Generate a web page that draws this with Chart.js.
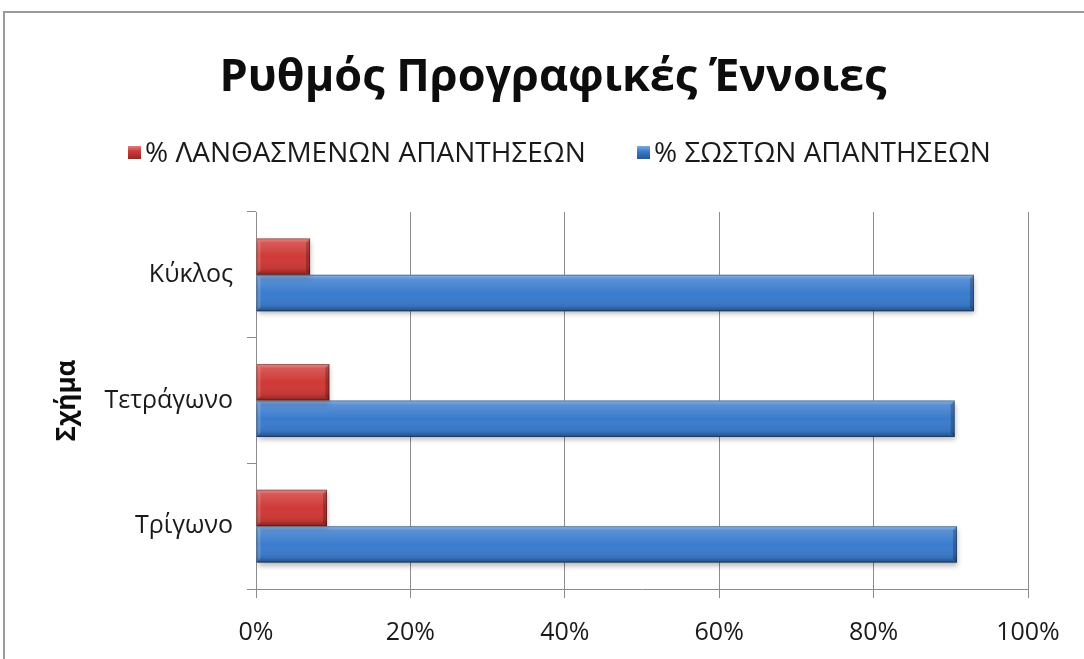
<!DOCTYPE html>
<html>
<head>
<meta charset="utf-8">
<script src="https://cdn.jsdelivr.net/npm/chart.js@4.4.1/dist/chart.umd.min.js"></script>
<style>
  html, body { margin: 0; padding: 0; background: #ffffff; }
  body { width: 1084px; height: 659px; position: relative; overflow: hidden; font-family: "Open Sans", "Noto Sans", sans-serif; }
  #frame { position: absolute; left: 3px; top: 11px; width: 1200px; height: 700px; border-left: 2px solid #9a9a9a; border-top: 2px solid #9a9a9a; }
  #chart { position: absolute; left: 0; top: 0; }
  #title { position: absolute; left: 553px; top: 47px; transform: translateX(-50%); white-space: nowrap;
           font-weight: 700; font-size: 45px; line-height: 54px; color: #0d0d0d; }
  .legend-item { position: absolute; top: 136px; height: 30px; line-height: 30px; white-space: nowrap;
                 font-size: 28px; color: #1a1a1a; }
  .legend-box { position: absolute; left: 0; top: 10px; width: 13px; height: 13px; }
  .legend-text { position: absolute; left: 17px; top: 0; }
</style>
</head>
<body>
<div id="frame"></div>
<canvas id="chart" width="1084" height="659"></canvas>
<div id="title">Ρυθμός Προγραφικές Έννοιες</div>
<div id="legend"></div>
<script>
// Shapes on the category axis, top to bottom
const categories = ['Κύκλος', 'Τετράγωνο', 'Τρίγωνο'];
// Share of wrong and correct answers per shape (%)
const wrongPct = [7, 9.5, 9.2];
const correctPct = [93, 90.5, 90.8];
const seriesNames = ['% ΛΑΝΘΑΣΜΕΝΩΝ ΑΠΑΝΤΗΣΕΩΝ', '% ΣΩΣΤΩΝ ΑΠΑΝΤΗΣΕΩΝ'];
const xTicks = [0, 20, 40, 60, 80, 100];
const axisTitle = 'Σχήμα';

const seriesColors = ['#cf3a37', '#3b7cce'];
const legendLeft = [128, 637];
const fontFamily = '"Open Sans", "Noto Sans", sans-serif';
const gridColor = '#8c8c8c';

// HTML legend built from the series names
const legend = document.getElementById('legend');
seriesNames.forEach((name, i) => {
  const item = document.createElement('div');
  item.className = 'legend-item';
  item.style.left = legendLeft[i] + 'px';
  const box = document.createElement('div');
  box.className = 'legend-box';
  box.style.background = 'linear-gradient(to bottom, rgba(255,255,255,0.35), rgba(255,255,255,0) 40%, rgba(0,0,0,0.3)), ' + seriesColors[i];
  const txt = document.createElement('div');
  txt.className = 'legend-text';
  txt.textContent = name;
  item.appendChild(box);
  item.appendChild(txt);
  legend.appendChild(item);
});

// Soft drop shadow under each bar series
const barShadow = {
  id: 'barShadow',
  beforeDatasetDraw(chart) {
    const ctx = chart.ctx;
    ctx.save();
    ctx.shadowColor = 'rgba(0,0,0,0.28)';
    ctx.shadowBlur = 5;
    ctx.shadowOffsetX = 1;
    ctx.shadowOffsetY = 3;
  },
  afterDatasetDraw(chart) {
    chart.ctx.restore();
  }
};

// Bevel shading painted over the bars using each element's geometry
const barBevel = {
  id: 'barBevel',
  afterDatasetsDraw(chart) {
    const ctx = chart.ctx;
    chart.data.datasets.forEach((ds, di) => {
      const meta = chart.getDatasetMeta(di);
      meta.data.forEach(bar => {
        const p = bar.getProps(['x', 'y', 'base', 'height'], true);
        const L = Math.min(p.base, p.x), R = Math.max(p.base, p.x);
        const T = p.y - p.height / 2, B = p.y + p.height / 2;
        const b = 4;
        ctx.save();
        const g = ctx.createLinearGradient(0, T, 0, B);
        g.addColorStop(0, 'rgba(255,255,255,0.42)');
        g.addColorStop(0.12, 'rgba(255,255,255,0.16)');
        g.addColorStop(0.5, 'rgba(255,255,255,0)');
        g.addColorStop(0.85, 'rgba(0,0,0,0.08)');
        g.addColorStop(1, 'rgba(0,0,0,0.38)');
        ctx.fillStyle = g;
        ctx.fillRect(L, T, R - L, B - T);
        // right face
        ctx.fillStyle = 'rgba(0,0,0,0.22)';
        ctx.beginPath();
        ctx.moveTo(R, T); ctx.lineTo(R, B); ctx.lineTo(R - b, B - b); ctx.lineTo(R - b, T + b);
        ctx.closePath(); ctx.fill();
        // left face
        ctx.fillStyle = 'rgba(255,255,255,0.16)';
        ctx.beginPath();
        ctx.moveTo(L, T); ctx.lineTo(L + b, T + b); ctx.lineTo(L + b, B - b); ctx.lineTo(L, B);
        ctx.closePath(); ctx.fill();
        ctx.strokeStyle = 'rgba(0,0,0,0.3)';
        ctx.lineWidth = 1;
        ctx.strokeRect(L + 0.5, T + 0.5, R - L - 1, B - T - 1);
        ctx.restore();
      });
    });
  }
};

new Chart(document.getElementById('chart'), {
  type: 'bar',
  data: {
    labels: categories,
    datasets: [
      { label: seriesNames[0], data: wrongPct, backgroundColor: seriesColors[0],
        borderWidth: 0, categoryPercentage: 0.58, barPercentage: 1.0 },
      { label: seriesNames[1], data: correctPct, backgroundColor: seriesColors[1],
        borderWidth: 0, categoryPercentage: 0.58, barPercentage: 1.0 }
    ]
  },
  options: {
    indexAxis: 'y',
    responsive: false,
    animation: false,
    devicePixelRatio: 1,
    layout: { padding: { top: 212, right: 56, bottom: 0, left: 0 } },
    plugins: {
      legend: { display: false },
      title: { display: false },
      tooltip: { enabled: false }
    },
    scales: {
      x: {
        min: 0, max: 100,
        afterBuildTicks: s => { s.ticks = xTicks.map(v => ({ value: v })); },
        ticks: { font: { family: fontFamily, size: 25 }, color: '#1a1a1a', padding: 20, callback: v => v + '%' },
        grid: { color: gridColor, lineWidth: 1, tickLength: 9, drawTicks: true },
        border: { display: true, color: gridColor },
        afterFit: s => { s.height = 70; }
      },
      y: {
        ticks: { font: { family: fontFamily, size: 25 }, color: '#1a1a1a', padding: 14 },
        grid: { offset: true, drawOnChartArea: false, drawTicks: true, tickLength: 9, color: gridColor },
        border: { display: true, color: gridColor },
        title: { display: true, text: axisTitle, color: '#0d0d0d',
                 font: { family: fontFamily, size: 26, weight: 'bold' },
                 padding: { top: 52, bottom: 0 } },
        afterFit: s => { s.width = 256; }
      }
    }
  },
  plugins: [barShadow, barBevel]
});
</script>
</body>
</html>
